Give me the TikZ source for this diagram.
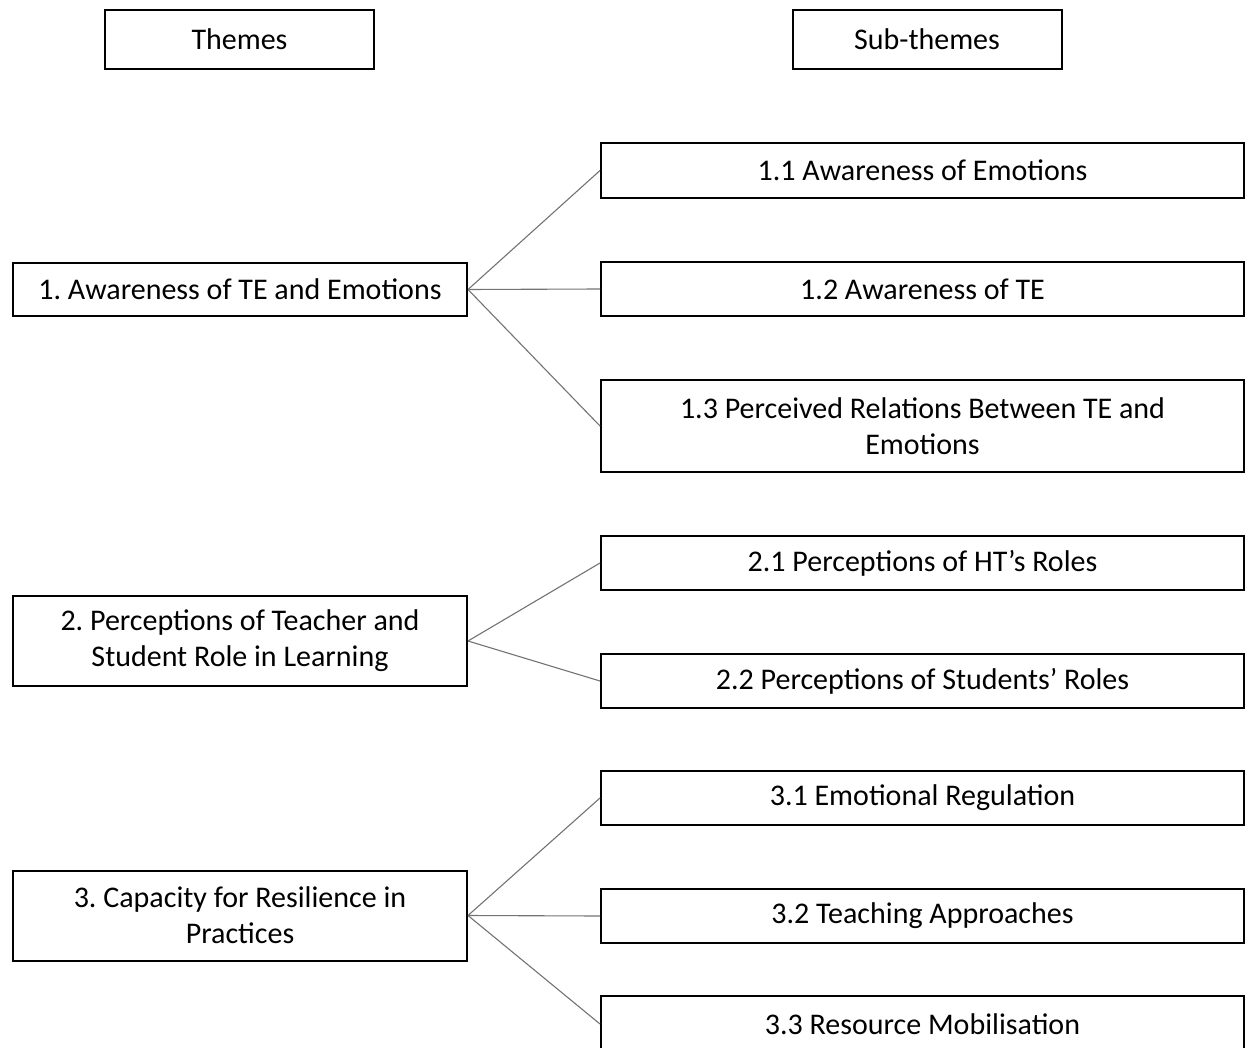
\documentclass[tikz,border=0pt]{standalone}
\usepackage{fontspec}
\setmainfont{Carlito}
\frenchspacing
\begin{document}
\begin{tikzpicture}[x=1pt,y=-1pt,
  box/.style={draw=black,line width=2pt,fill=white,inner sep=0pt,align=center,
    font=\fontsize{30}{36}\selectfont},
  head/.style={box,minimum width=269pt,minimum height=59pt},
  theme/.style={box,minimum width=454pt},
  sub/.style={box,minimum width=643pt},
  link/.style={draw=black!55,line width=1.1pt}]
\useasboundingbox (0,0) rectangle (1246,1048);
\clip (0,0) rectangle (1246,1048);

% column headings
\node[head] (hthemes) at (239.5,39.5) {Themes};
\node[head] (hsub) at (927,39.5) {Sub-themes};

% themes
\node[theme,minimum height=53pt] (t1) at (240,289.5) {1. Awareness of TE and Emotions};
\node[theme,minimum height=90pt] (t2) at (240,641) {2. Perceptions of Teacher and\\Student Role in Learning};
\node[theme,minimum height=90pt] (t3) at (240,915.5) {3. Capacity for Resilience in\\Practices};

% sub-themes
\node[sub,minimum height=55pt] (s11) at (922.5,170.5) {1.1 Awareness of Emotions};
\node[sub,minimum height=54pt] (s12) at (922.5,289) {1.2 Awareness of TE};
\node[sub,minimum height=92pt] (s13) at (922.5,426) {1.3 Perceived Relations Between TE and\\Emotions};
\node[sub,minimum height=54pt] (s21) at (922.5,563) {2.1 Perceptions of HT’s Roles};
\node[sub,minimum height=54pt] (s22) at (922.5,681) {2.2 Perceptions of Students’ Roles};
\node[sub,minimum height=54pt] (s31) at (922.5,798) {3.1 Emotional Regulation};
\node[sub,minimum height=54pt] (s32) at (922.5,916) {3.2 Teaching Approaches};
\node[sub,minimum height=56pt] (s33) at (922.5,1024) {3.3 Resource Mobilisation};

% connectors
\foreach \t/\s in {t1/s11,t1/s12,t1/s13,t2/s21,t2/s22,t3/s31,t3/s32,t3/s33}
  \draw[link] (\t.east) -- (\s.west);
\end{tikzpicture}
\end{document}
